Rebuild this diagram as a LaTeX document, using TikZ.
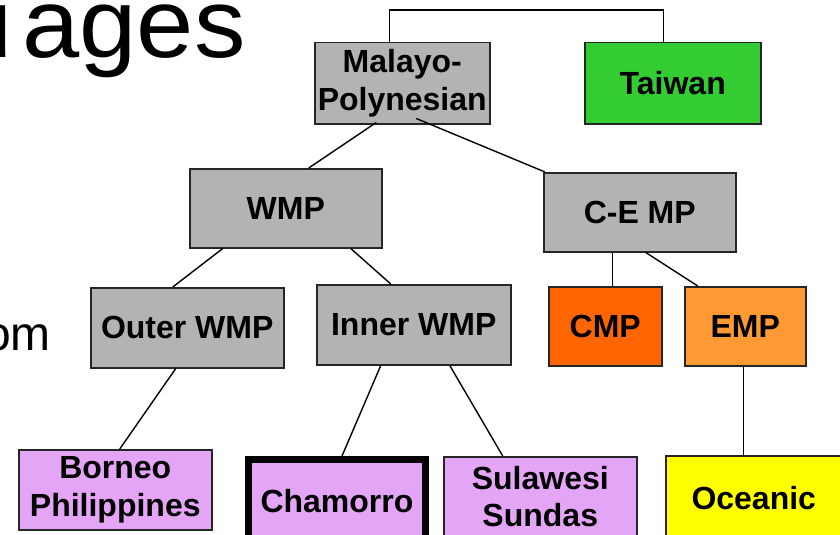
\documentclass[tikz,border=0pt]{standalone}
\usepackage{fontspec}
\setmainfont{Liberation Sans}
\definecolor{boxgrey}{HTML}{B3B3B3}
\definecolor{twgreen}{HTML}{33CC33}
\definecolor{cmporange}{HTML}{FF6600}
\definecolor{emporange}{HTML}{FF9933}
\definecolor{lilac}{HTML}{E5A5F7}
\definecolor{ocyellow}{HTML}{FFFF00}
\tikzset{
  lang/.style={draw=black!85, line width=1.5pt, anchor=north west, inner sep=0pt,
    align=center, font=\fontsize{32}{37.5}\selectfont\bfseries},
  link/.style={draw=black, line width=1.4pt},
}
\begin{document}
\begin{tikzpicture}[x=1pt,y=1pt]
\useasboundingbox (0,0) rectangle (840,-535);
\clip (0,0) rectangle (840,-535);
\fill[white] (0,0) rectangle (840,-535);
% partially visible slide text
\node[anchor=base east, inner sep=0pt, xscale=1.05, transform shape, font=\fontsize{98}{100}\selectfont] (title) at (246,-57) {u\kern9pt ages};
\node[anchor=base east, inner sep=0pt, font=\fontsize{48}{52}\selectfont] (from) at (51,-350) {om};
% boxes
\node[lang, fill=boxgrey, minimum width=175pt, minimum height=81pt] (mp) at (314,-42) {Malayo-\\Polynesian};
\node[lang, fill=twgreen, minimum width=176pt, minimum height=81pt] (tw) at (584,-42) {Taiwan};
\node[lang, fill=boxgrey, minimum width=192pt, minimum height=79pt] (wmp) at (189,-168) {WMP};
\node[lang, fill=boxgrey, minimum width=192pt, minimum height=79pt] (cemp) at (543,-172) {C-E MP};
\node[lang, fill=boxgrey, minimum width=193pt, minimum height=80pt] (outer) at (90,-287) {Outer WMP};
\node[lang, fill=boxgrey, minimum width=194pt, minimum height=80pt] (inner) at (316,-284) {Inner WMP};
\node[lang, fill=cmporange, minimum width=113pt, minimum height=79pt] (cmp) at (548,-286) {CMP};
\node[lang, fill=emporange, minimum width=121pt, minimum height=79pt] (emp) at (684,-286) {EMP};
\node[lang, fill=lilac, minimum width=193pt, minimum height=80pt] (borneo) at (18,-449) {Borneo\\Philippines};
\node[lang, fill=lilac, line width=7pt, draw=black, minimum width=177pt, minimum height=83pt] (cham) at (245,-456) {Chamorro};
\node[lang, fill=lilac, minimum width=193pt, minimum height=80pt] (sula) at (443,-456) {Sulawesi\\Sundas};
\node[lang, fill=ocyellow, minimum width=176pt, minimum height=84pt] (ocean) at (665,-455) {Oceanic};
% connectors
\draw[link] ([xshift=-12.5pt]mp.north) |- ++(0,32) coordinate (topbar) -| ([xshift=-9pt]tw.north);
\draw[link] ([xshift=-26pt,yshift=2pt]mp.south) -- ([xshift=23pt]wmp.north);
\draw[link] ([xshift=14pt,yshift=6pt]mp.south) -- ([xshift=2pt]cemp.north west);
\draw[link] ([xshift=-63pt]wmp.south) -- ([xshift=-14.5pt]outer.north);
\draw[link] ([xshift=65pt]wmp.south) -- ([xshift=-23pt]inner.north);
\draw[link] ([xshift=-11.5pt]outer.south) -- ([xshift=4.5pt]borneo.north);
\draw[link] ([xshift=-33pt]inner.south) -- ([xshift=5pt]cham.north);
\draw[link] ([xshift=36pt]inner.south) -- ([xshift=-37.5pt]sula.north);
\draw[link] ([xshift=7.5pt]cmp.north) -- ([xshift=7.5pt]cmp.north |- cemp.south);
\draw[link] ([xshift=6pt]cemp.south) -- ([xshift=-47.5pt]emp.north);
\draw[link] ([xshift=-1.5pt]emp.south) -- ([xshift=-1.5pt]emp.south |- ocean.north);
\end{tikzpicture}
\end{document}
